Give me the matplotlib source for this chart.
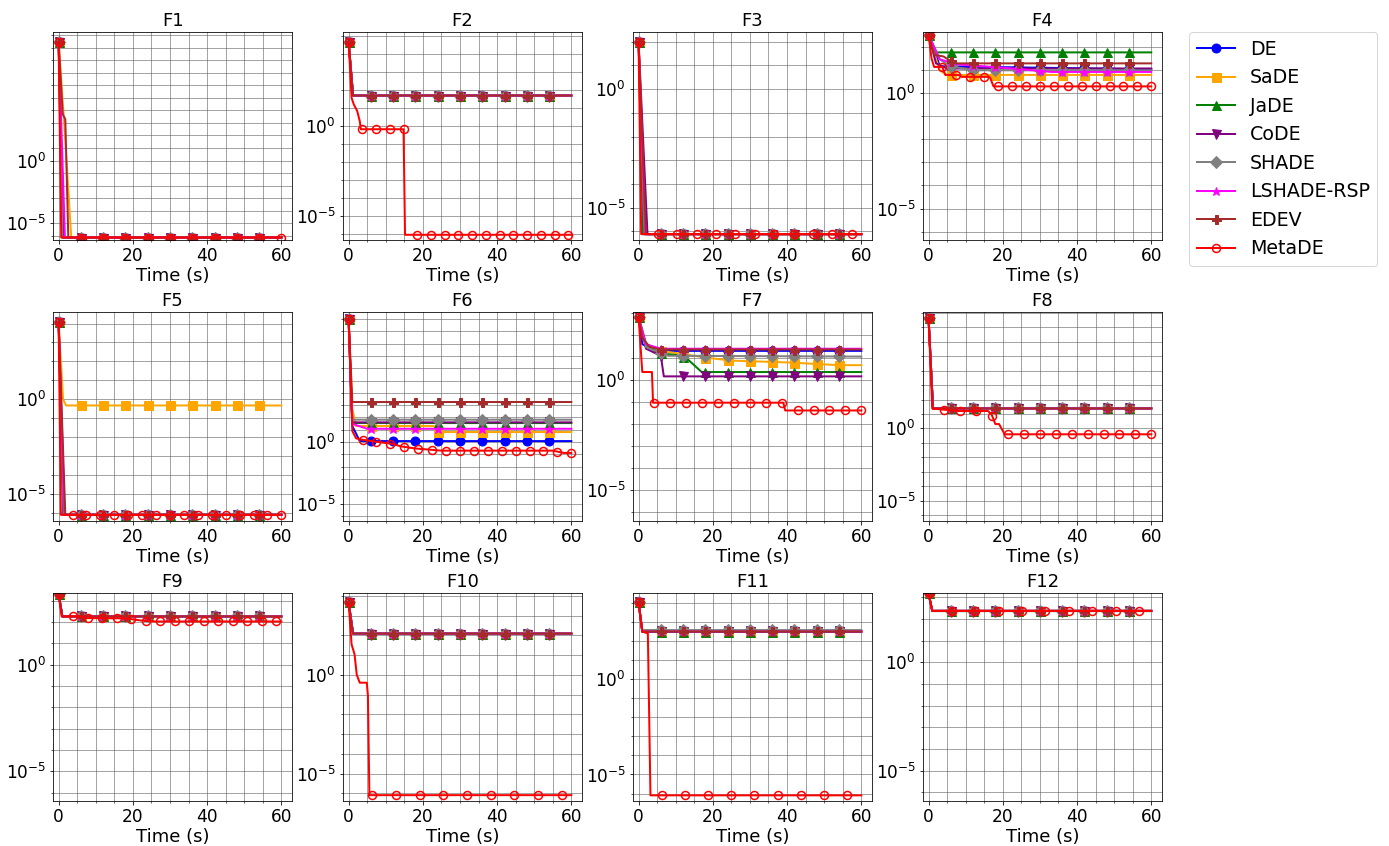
import numpy as np
import matplotlib
matplotlib.use("Agg")
import matplotlib.pyplot as plt
from matplotlib.ticker import MultipleLocator, LogLocator, NullFormatter

ALGOS = ["DE", "SaDE", "JaDE", "CoDE", "SHADE", "LSHADE-RSP", "EDEV", "MetaDE"]
COLORS = ["blue", "orange", "green", "purple", "gray", "magenta", "brown", "red"]
MARKERS = ["o", "s", "^", "v", "D", "*", "P", "o"]

# breakpoints (time in s, best fitness)
F1 = {
    "DE": ([0, 1.2, 60], [3e9, 7e-7, 7e-7]),
    "SaDE": ([0, 1.5, 3.4, 60], [3e9, 1e3, 7e-7, 7e-7]),
    "JaDE": ([0, 1.0, 60], [3e9, 7e-7, 7e-7]),
    "CoDE": ([0, 1.3, 60], [3e9, 7e-7, 7e-7]),
    "SHADE": ([0, 1.0, 60], [3e9, 7e-7, 7e-7]),
    "LSHADE-RSP": ([0, 1.7, 60], [3e9, 7e-7, 7e-7]),
    "EDEV": ([0, 1.1, 1.8, 2.6, 60], [3e9, 5e3, 2e3, 7e-7, 7e-7]),
    "MetaDE": ([0, 0.7, 60], [3e9, 7e-7, 7e-7]),
}
F2 = {
    "DE": ([0, 1.2, 60], [5e4, 50, 50]),
    "SaDE": ([0, 1.2, 60], [5e4, 50, 50]),
    "JaDE": ([0, 1.2, 60], [5e4, 50, 50]),
    "CoDE": ([0, 1.2, 60], [5e4, 50, 50]),
    "SHADE": ([0, 1.2, 60], [5e4, 50, 50]),
    "LSHADE-RSP": ([0, 1.2, 60], [5e4, 50, 50]),
    "EDEV": ([0, 1.2, 60], [5e4, 50, 50]),
    "MetaDE": ([0, 0.8, 1.4, 2.3, 3.0, 3.3, 14.8, 15.2, 60],
               [5e4, 37, 16, 7, 1.9, 0.66, 0.66, 8.5e-7, 8.5e-7]),
}
F3 = {
    "DE": ([0, 1.5, 60], [100, 7.6e-7, 7.6e-7]),
    "SaDE": ([0, 2.0, 60], [100, 7.6e-7, 7.6e-7]),
    "JaDE": ([0, 1.2, 60], [100, 7.6e-7, 7.6e-7]),
    "CoDE": ([0, 2.4, 60], [100, 7.6e-7, 7.6e-7]),
    "SHADE": ([0, 1.6, 60], [100, 7.6e-7, 7.6e-7]),
    "LSHADE-RSP": ([0, 1.8, 60], [100, 7.6e-7, 7.6e-7]),
    "EDEV": ([0, 2.0, 60], [100, 7.6e-7, 7.6e-7]),
    "MetaDE": ([0, 0.7, 60], [100, 7.6e-7, 7.6e-7]),
}
F4 = {
    "DE": ([0, 1, 3, 60], [350, 150, 15, 11]),
    "SaDE": ([0, 3, 5, 60], [350, 10, 6.3, 6.3]),
    "JaDE": ([0, 2, 60], [350, 60, 60]),
    "CoDE": ([0, 2, 5, 60], [350, 20, 12, 12]),
    "SHADE": ([0, 3, 6, 12, 60], [350, 30, 15, 10, 10]),
    "LSHADE-RSP": ([0, 3, 8, 20, 33, 60], [350, 30, 18, 13, 8.5, 8.5]),
    "EDEV": ([0, 1.5, 4, 7, 60], [350, 47, 40, 20, 20]),
    "MetaDE": ([0, 0.8, 1.5, 3.7, 4.5, 8, 9, 16.5, 17.5, 60],
               [350, 33, 14, 14, 6.3, 6.3, 5.2, 5.2, 2, 2]),
}
F5 = {
    "DE": ([0, 1.3, 60], [1.2e4, 8.3e-7, 8.3e-7]),
    "SaDE": ([0, 1.2, 2, 60], [1.2e4, 1.0, 0.48, 0.48]),
    "JaDE": ([0, 1.2, 60], [1.2e4, 8.3e-7, 8.3e-7]),
    "CoDE": ([0, 1.6, 60], [1.2e4, 8.3e-7, 8.3e-7]),
    "SHADE": ([0, 1.4, 60], [1.2e4, 8.3e-7, 8.3e-7]),
    "LSHADE-RSP": ([0, 1.5, 60], [1.2e4, 8.3e-7, 8.3e-7]),
    "EDEV": ([0, 1.8, 60], [1.2e4, 8.3e-7, 8.3e-7]),
    "MetaDE": ([0, 0.6, 60], [1.2e4, 8.3e-7, 8.3e-7]),
}
F6 = {
    "DE": ([0, 1, 3, 60], [1e10, 20, 1.2, 1.2]),
    "SaDE": ([0, 1, 2, 23, 24, 60], [1e10, 500, 20, 20, 6.5, 6.5]),
    "JaDE": ([0, 1, 60], [1e10, 35, 35]),
    "CoDE": ([0, 1, 60], [1e10, 40, 40]),
    "SHADE": ([0, 1, 60], [1e10, 66, 66]),
    "LSHADE-RSP": ([0, 1, 5, 60], [1e10, 30, 12, 12]),
    "EDEV": ([0, 1, 60], [1e10, 1800, 1800]),
    "MetaDE": ([0, 1, 2, 4, 8, 12, 14, 18, 25, 55, 58, 60],
               [1e10, 8, 2, 1.5, 1.0, 0.7, 0.45, 0.3, 0.2, 0.2, 0.13, 0.13]),
}
F7 = {
    "DE": ([0, 1, 5, 60], [680, 40, 20, 20]),
    "SaDE": ([0, 2, 6, 18, 25, 40, 54, 60], [680, 40, 20, 10, 7.2, 6, 4.5, 4.5]),
    "JaDE": ([0, 2, 5, 10, 13, 17, 60], [680, 40, 16, 13, 9, 2.2, 2.2]),
    "CoDE": ([0, 2, 6, 6.8, 60], [680, 25, 12, 1.4, 1.4]),
    "SHADE": ([0, 2, 8, 60], [680, 30, 12, 11]),
    "LSHADE-RSP": ([0, 2, 6, 60], [680, 40, 25, 25]),
    "EDEV": ([0, 1, 3, 6, 60], [680, 80, 30, 23, 23]),
    "MetaDE": ([0, 1, 3.6, 3.9, 39, 39.5, 60], [680, 2.2, 2.2, 0.09, 0.09, 0.04, 0.04]),
}
F8 = {
    "DE": ([0, 1.2, 60], [4.3e7, 24, 24]),
    "SaDE": ([0, 1.2, 60], [4.3e7, 24, 24]),
    "JaDE": ([0, 1.2, 60], [4.3e7, 26, 26]),
    "CoDE": ([0, 1.2, 60], [4.3e7, 24, 24]),
    "SHADE": ([0, 1.2, 60], [4.3e7, 24, 24]),
    "LSHADE-RSP": ([0, 1.2, 60], [4.3e7, 24, 24]),
    "EDEV": ([0, 1.2, 60], [4.3e7, 24, 24]),
    "MetaDE": ([0, 1, 4, 8, 16, 17, 18, 19, 20.5, 60],
               [4.3e7, 24, 20, 16, 16, 9, 2, 2, 0.39, 0.39]),
}
F9 = {
    "DE": ([0, 1, 60], [2100, 186, 186]),
    "SaDE": ([0, 1, 60], [2100, 186, 186]),
    "JaDE": ([0, 1, 60], [2100, 186, 186]),
    "CoDE": ([0, 1, 60], [2100, 186, 186]),
    "SHADE": ([0, 1, 60], [2100, 186, 186]),
    "LSHADE-RSP": ([0, 1, 60], [2100, 186, 186]),
    "EDEV": ([0, 1, 60], [2100, 186, 186]),
    "MetaDE": ([0, 0.8, 6, 7, 18, 22, 26, 60], [2100, 186, 186, 155, 150, 120, 107, 107]),
}
F10 = {
    "DE": ([0, 1.2, 60], [4800, 123, 123]),
    "SaDE": ([0, 1.2, 60], [4800, 123, 123]),
    "JaDE": ([0, 1.2, 60], [4800, 123, 123]),
    "CoDE": ([0, 1.2, 60], [4800, 123, 123]),
    "SHADE": ([0, 1.2, 60], [4800, 123, 123]),
    "LSHADE-RSP": ([0, 1.2, 60], [4800, 123, 123]),
    "EDEV": ([0, 1.2, 60], [4800, 123, 123]),
    "MetaDE": ([0, 0.8, 1.6, 2.2, 3, 4.9, 5.2, 5.6, 60],
               [4800, 35, 11, 1.0, 0.4, 0.4, 0.09, 8e-7, 8e-7]),
}
F11 = {
    "DE": ([0, 1, 60], [1.1e4, 320, 320]),
    "SaDE": ([0, 1, 60], [1.1e4, 320, 320]),
    "JaDE": ([0, 1, 60], [1.1e4, 300, 300]),
    "CoDE": ([0, 1, 60], [1.1e4, 320, 320]),
    "SHADE": ([0, 1, 60], [1.1e4, 380, 380]),
    "LSHADE-RSP": ([0, 1, 60], [1.1e4, 320, 320]),
    "EDEV": ([0, 1, 60], [1.1e4, 320, 320]),
    "MetaDE": ([0, 1, 2.5, 3.2, 60], [1.1e4, 320, 250, 8e-7, 8e-7]),
}
F12 = {
    "DE": ([0, 1, 60], [1500, 235, 235]),
    "SaDE": ([0, 1, 60], [1500, 235, 235]),
    "JaDE": ([0, 1, 60], [1500, 230, 230]),
    "CoDE": ([0, 1, 60], [1500, 235, 235]),
    "SHADE": ([0, 1, 60], [1500, 240, 240]),
    "LSHADE-RSP": ([0, 1, 60], [1500, 235, 235]),
    "EDEV": ([0, 1, 60], [1500, 235, 235]),
    "MetaDE": ([0, 1, 60], [1500, 235, 235]),
}
PANELS = [F1, F2, F3, F4, F5, F6, F7, F8, F9, F10, F11, F12]
TITLES = ["F%d" % (i + 1) for i in range(12)]

BASE_MARKS = [0, 6, 12, 18, 24, 30, 36, 42, 48, 54]
# spacing of MetaDE markers differs per function (different record rate)
META_STEP = [6.0, 3.7, 5.22, 3.75, 3.75, 3.75, 4.286, 4.286, 3.91, 6.38, 6.24, 6.3]


def curve(bt, bv, mt):
    t = np.union1d(bt, mt)
    lv = np.interp(t, bt, np.log10(bv))
    idx = list(np.searchsorted(t, mt))
    return t, 10 ** lv, idx


fig, axes = plt.subplots(3, 4, figsize=(1389 / 72, 846 / 72), dpi=72)
plt.subplots_adjust(left=0.0382, right=0.8366, top=0.962, bottom=0.0535,
                    wspace=0.213, hspace=0.346)

for k, ax in enumerate(axes.flat):
    data = PANELS[k]
    for a, c, m in zip(ALGOS, COLORS, MARKERS):
        bt, bv = data[a]
        if a == "MetaDE":
            mt = list(np.arange(0, 60.01, META_STEP[k]))
            t, v, idx = curve(bt, bv, mt)
            ax.plot(t, v, color=c, marker=m, markevery=idx, ms=8, mfc="none",
                    mew=1.5, lw=2, label=a)
        else:
            t, v, idx = curve(bt, bv, BASE_MARKS)
            ax.plot(t, v, color=c, marker=m, markevery=idx, ms=9, lw=2, label=a)
    ax.set_yscale("log")
    ax.set_ylim(bottom=10 ** -6.38)
    ax.set_xlim(-1.5, 62.9)
    ax.set_yticks([1e-5, 1])
    ax.yaxis.set_minor_locator(LogLocator(base=10, subs=(1.0,), numticks=60))
    ax.yaxis.set_minor_formatter(NullFormatter())
    ax.xaxis.set_major_locator(MultipleLocator(20))
    ax.xaxis.set_minor_locator(MultipleLocator(5))
    ax.grid(True, which="both", color="0.35", alpha=0.55, lw=1)
    ax.tick_params(labelsize=17)
    ax.set_title(TITLES[k], fontsize=18)
    ax.set_xlabel("Time (s)", fontsize=18, labelpad=2)

handles, labels = axes[0, 0].get_legend_handles_labels()
fig.legend(handles, labels, loc="upper left", bbox_to_anchor=(0.856, 0.962),
           borderaxespad=0, fontsize=19)

plt.savefig("out.png")
